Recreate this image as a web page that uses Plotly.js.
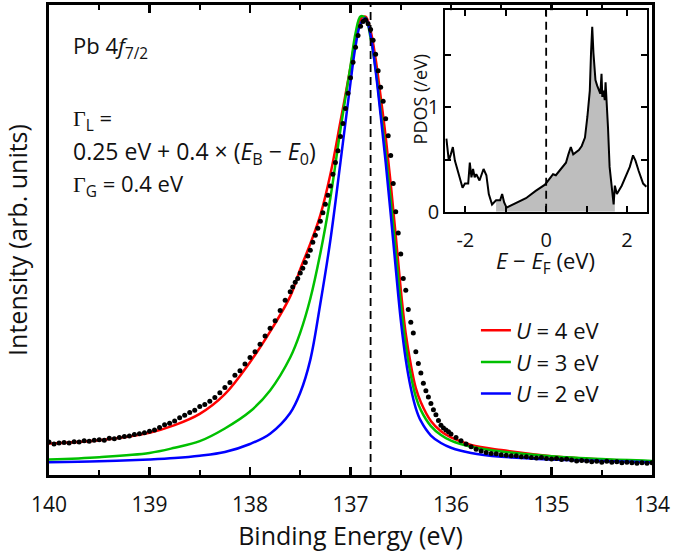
<!DOCTYPE html>
<html>
<head>
<meta charset="utf-8">
<script src="https://cdn.plot.ly/plotly-3.0.1.min.js"></script>
<style>body{margin:0;background:#fff}#plot{width:675px;height:552px}</style>
</head>
<body>
<div id="plot"></div>
<script>
// fitted spectra, binding energy (eV) vs normalised intensity
const fitE = [140.0,139.5,139.0,138.75,138.5,138.25,138.0,137.8,137.6,137.5,137.4,137.3,137.2,137.1,137.0,136.95,136.9,136.85,136.8,136.75,136.7,136.65,136.6,136.55,136.5,136.45,136.4,136.35,136.3,136.2,136.1,136.0,135.8,135.5,135.0,134.5,134.0];
const fitU4 = [0.067,0.074,0.090,0.106,0.130,0.172,0.240,0.305,0.380,0.438,0.492,0.553,0.640,0.752,0.868,0.930,0.970,0.975,0.945,0.885,0.805,0.720,0.620,0.510,0.395,0.300,0.235,0.185,0.155,0.115,0.093,0.080,0.064,0.053,0.040,0.033,0.029];
const fitU3 = [0.033,0.038,0.047,0.058,0.072,0.099,0.135,0.180,0.250,0.303,0.375,0.472,0.590,0.735,0.870,0.940,0.976,0.972,0.930,0.865,0.775,0.685,0.585,0.475,0.365,0.275,0.212,0.166,0.138,0.104,0.085,0.073,0.060,0.050,0.040,0.034,0.030];
const fitU2 = [0.027,0.029,0.033,0.036,0.041,0.049,0.066,0.088,0.132,0.175,0.245,0.365,0.500,0.665,0.835,0.912,0.960,0.972,0.935,0.860,0.765,0.665,0.555,0.440,0.330,0.245,0.185,0.142,0.115,0.084,0.068,0.058,0.047,0.039,0.033,0.030,0.027];
const fitNames = ['<i>U</i> = 4 eV', '<i>U</i> = 3 eV', '<i>U</i> = 2 eV'];
const fitColors = ['#ff0000', '#00c000', '#0000ff'];

// measured Pb 4f7/2 spectrum
const dataE = [140.00,139.95,139.90,139.85,139.80,139.75,139.70,139.65,139.60,139.55,139.50,139.45,139.40,139.35,139.30,139.25,139.20,139.15,139.10,139.05,
  139.00,138.95,138.90,138.85,138.80,138.75,138.70,138.65,138.60,138.55,138.50,138.45,138.40,138.35,138.30,138.25,138.20,138.15,138.10,138.05,
  138.00,137.95,137.90,137.85,137.80,137.75,137.70,137.65,137.60,
  137.575,137.55,137.525,137.50,137.475,137.45,137.425,137.40,137.375,137.35,137.325,137.30,137.275,137.25,137.225,137.20,
  137.175,137.15,137.125,137.10,137.075,137.05,137.025,137.00,136.975,136.95,136.925,136.90,136.875,136.85,136.825,136.80,
  136.775,136.75,136.725,136.70,136.675,136.65,136.625,136.60,136.575,136.55,136.525,136.50,136.475,136.45,136.425,136.40,
  136.375,136.35,136.325,136.30,136.275,136.25,136.225,136.20,136.175,136.15,136.125,136.10,136.075,136.05,136.025,136.00,
  135.95,135.90,135.85,135.80,135.75,135.70,135.65,135.60,135.55,135.50,135.45,135.40,135.35,135.30,135.25,135.20,135.15,135.10,135.05,135.00,
  134.95,134.90,134.85,134.80,134.75,134.70,134.65,134.60,134.55,134.50,134.45,134.40,134.35,134.30,134.25,134.20,134.15,134.10,134.05,134.00];
const dataI = [0.070,0.066,0.068,0.069,0.068,0.071,0.070,0.073,0.072,0.074,0.075,0.074,0.078,0.077,0.080,0.082,0.083,0.086,0.088,0.090,
  0.093,0.096,0.101,0.107,0.110,0.115,0.122,0.127,0.133,0.138,0.146,0.150,0.157,0.165,0.175,0.186,0.197,0.212,0.222,0.236,
  0.250,0.262,0.278,0.296,0.312,0.328,0.350,0.372,0.390,
  0.400,0.410,0.418,0.430,0.440,0.452,0.466,0.478,0.495,0.510,0.525,0.540,0.558,0.576,0.595,0.615,
  0.640,0.665,0.690,0.720,0.748,0.780,0.812,0.845,0.878,0.910,0.935,0.955,0.965,0.968,0.960,0.948,
  0.925,0.895,0.860,0.825,0.795,0.758,0.722,0.680,0.620,0.560,0.515,0.470,0.418,0.393,0.352,0.325,
  0.302,0.262,0.237,0.217,0.195,0.179,0.166,0.152,0.139,0.128,0.116,0.106,0.100,0.096,0.092,0.087,
  0.080,0.073,0.066,0.060,0.055,0.051,0.048,0.046,0.045,0.043,0.042,0.041,0.041,0.039,0.039,0.037,0.036,0.037,0.035,0.034,
  0.035,0.033,0.034,0.032,0.030,0.031,0.030,0.028,0.029,0.027,0.029,0.027,0.028,0.026,0.027,0.026,0.025,0.026,0.025,0.026];
const peakE = 136.8;

// inset: projected DOS
const pdosE = [-2.47,-2.41,-2.36,-2.31,-2.26,-2.17,-2.07,-2.01,-1.93,-1.89,-1.85,-1.81,-1.77,-1.73,-1.65,-1.55,-1.48,-1.42,-1.34,-1.24,
  -1.14,-1.09,-1.04,-0.98,-0.75,-0.50,-0.26,-0.03,0.11,0.17,0.24,0.32,0.40,0.49,0.55,0.61,0.67,0.73,0.81,0.88,
  0.96,1.02,1.08,1.11,1.14,1.17,1.22,1.26,1.30,1.34,1.37,1.39,1.42,1.45,1.47,1.50,1.53,1.57,1.63,1.67,
  1.70,1.75,1.87,1.99,2.07,2.15,2.21,2.29,2.40,2.48];
const pdosV = [0.70,0.49,0.55,0.62,0.49,0.36,0.23,0.27,0.27,0.47,0.33,0.41,0.33,0.36,0.30,0.41,0.35,0.17,0.07,0.11,
  0.11,0.17,0.09,0.04,0.08,0.13,0.20,0.26,0.33,0.36,0.35,0.39,0.43,0.47,0.55,0.62,0.55,0.57,0.59,0.63,
  0.71,0.91,1.16,1.52,1.77,1.52,1.26,1.21,1.16,1.13,1.32,1.10,1.16,1.07,1.24,1.04,0.81,0.43,0.20,0.07,
  0.25,0.17,0.25,0.35,0.43,0.54,0.49,0.39,0.27,0.24];
const fillRange = [-1.25, 1.74];
const fermiE = 0;
const insetTop = 1.93;
const insetXTicks = [-2, 0, 2];
const insetXLabels = ['-2', '0', '2'];
const insetYTicks = [0, 1];

const family = 'Open Sans, sans-serif';
const ink = '#111';
const f = (size) => ({ family: family, size: size, color: ink });
const traces = [];

[fitU4, fitU3, fitU2].forEach((ys, i) => {
  traces.push({
    x: fitE, y: ys, mode: 'lines', name: fitNames[i],
    line: { color: fitColors[i], width: 2.5, shape: 'spline', smoothing: 1 }
  });
});

traces.push({
  x: dataE, y: dataI, mode: 'markers', showlegend: false, hoverinfo: 'skip',
  marker: { color: '#000', size: 5 }
});

traces.push({
  x: [peakE, peakE], y: [0, 1], mode: 'lines', showlegend: false,
  line: { color: '#000', width: 1.8, dash: '8px,5px' }
});

// inset traces
const occE = [], occV = [];
pdosE.forEach((e, i) => {
  if (e >= fillRange[0] && e <= fillRange[1]) { occE.push(e); occV.push(pdosV[i]); }
});
traces.push({
  x: occE, y: occV, xaxis: 'x2', yaxis: 'y2', mode: 'lines', fill: 'tozeroy',
  fillcolor: '#bebebe', line: { width: 0 }, showlegend: false
});
traces.push({
  x: pdosE, y: pdosV, xaxis: 'x2', yaxis: 'y2', mode: 'lines', showlegend: false,
  line: { color: '#000', width: 2 }
});
traces.push({
  x: [fermiE, fermiE], y: [0, insetTop], xaxis: 'x2', yaxis: 'y2', mode: 'lines', showlegend: false,
  line: { color: '#000', width: 1.8, dash: '8px,5px' }
});

const gam = '<span style="font-family:Liberation Serif">Γ</span>';
const note = (y, text, size) => ({
  xref: 'paper', yref: 'paper', x: 0.037, y: y, xanchor: 'left', yanchor: 'middle',
  showarrow: false, text: text, font: f(size || 22)
});
const insetMinor = (step) => ({ dtick: step, ticks: 'inside', ticklen: 6, tickwidth: 2, tickcolor: '#000', showgrid: false });

const layout = {
  width: 675, height: 552,
  margin: { l: 49, r: 23, t: 5, b: 77 },
  font: f(21),
  paper_bgcolor: '#fff', plot_bgcolor: '#fff',
  xaxis: {
    range: [140, 134], tick0: 134, dtick: 1, ticks: 'inside', ticklen: 8, tickwidth: 2.5, tickcolor: '#000',
    showline: true, linewidth: 3, linecolor: '#000', mirror: 'ticks', showgrid: false, zeroline: false,
    ticklabelstandoff: 9, tickfont: f(21),
    minor: { dtick: 0.5, ticks: 'inside', ticklen: 5, tickwidth: 2, tickcolor: '#000', showgrid: false },
    title: { text: 'Binding Energy (eV)', standoff: 6 }
  },
  yaxis: {
    range: [0, 1], showticklabels: false, ticks: '', showline: true, linewidth: 3, linecolor: '#000',
    mirror: true, showgrid: false, zeroline: false,
    title: { text: 'Intensity (arb. units)', standoff: 18 }
  },
  xaxis2: {
    domain: [0.657, 0.992], anchor: 'y2', range: [-2.5, 2.5],
    tickvals: insetXTicks, ticktext: insetXLabels,
    ticks: 'inside', ticklen: 6, tickwidth: 2, tickcolor: '#000', tickfont: f(20),
    showline: true, linewidth: 2, linecolor: '#000', mirror: 'ticks', showgrid: false, zeroline: false,
    ticklabelstandoff: 9, minor: insetMinor(1)
  },
  yaxis2: {
    domain: [0.560, 0.989], anchor: 'x2', range: [0, insetTop],
    tickvals: insetYTicks,
    ticks: 'inside', ticklen: 6, tickwidth: 2, tickcolor: '#000', tickfont: f(20),
    showline: true, linewidth: 2, linecolor: '#000', mirror: 'ticks', showgrid: false, zeroline: false,
    minor: insetMinor(0.5)
  },
  legend: {
    x: 0.708, y: 0.352, xanchor: 'left', yanchor: 'top', bgcolor: 'rgba(0,0,0,0)',
    font: f(22), tracegroupgap: 0
  },
  annotations: [
    note(0.91, 'Pb 4<i>f</i><sub>7/2</sub>'),
    note(0.757, gam + '<sub>L</sub> ='),
    note(0.687, '0.25 eV + 0.4 × (<i>E</i><sub>B</sub> − <i>E</i><sub>0</sub>)', 23),
    note(0.617, gam + '<sub>G</sub> = 0.4 eV'),
    { xref: 'paper', yref: 'paper', x: 0.616, y: 0.80, xanchor: 'center', yanchor: 'middle',
      showarrow: false, textangle: -90, text: 'PDOS (/eV)', font: f(18) },
    { xref: 'paper', yref: 'paper', x: 0.8226, y: 0.453, xanchor: 'center', yanchor: 'middle',
      showarrow: false, text: '<i>E</i> − <i>E</i><sub>F</sub> (eV)', font: f(22) }
  ]
};

Plotly.newPlot('plot', traces, layout, { staticPlot: true });
</script>
</body>
</html>
